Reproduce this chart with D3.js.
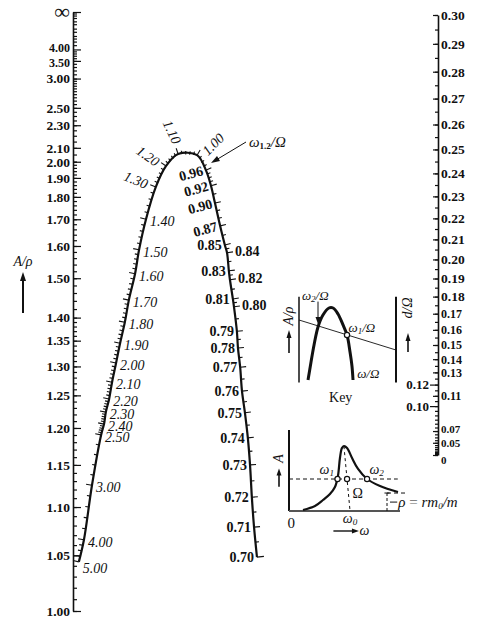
<!DOCTYPE html>
<html><head><meta charset="utf-8">
<script src="https://cdn.jsdelivr.net/npm/d3@7"></script>
<style>
body{margin:0;background:#fff;}
text{font-family:"Liberation Serif","Times New Roman",serif;fill:#111;}
</style></head><body>
<script>
/***********************************************************************************/
// Data

// A/rho scale (left)
var leftMajor = [Infinity,4.00,3.50,3.00,2.50,2.30,2.10,2.00,1.90,1.80,1.70,1.60,1.50,1.40,1.35,1.30,1.25,1.20,1.15,1.10,1.05,1.00];
// d/Omega scale (right)
var rightMajor = [0.30,0.29,0.28,0.27,0.26,0.25,0.24,0.23,0.22,0.21,0.20,0.19,0.18,0.17,0.16,0.15,0.14,0.13,0.11,0.07,0.05,0];
var rightMajorLeft = [0.12,0.10];
// omega_{1,2}/Omega curve: value, position across (0 = A/rho axis, 1 = d/Omega axis), height in A/rho units
var curveValues = [5.00,4.00,3.00,2.50,2.40,2.30,2.20,2.10,2.00,1.90,1.80,1.70,1.60,1.50,1.40,1.30,1.20,1.10,1.00,
                   0.96,0.92,0.90,0.87,0.85,0.84,0.83,0.82,0.81,0.80,0.79,0.78,0.77,0.76,0.75,0.74,0.73,0.72,0.71,0.70];
var curveT = [0.016,0.030,0.052,0.077,0.085,0.090,0.099,0.107,0.118,0.129,0.142,0.153,0.170,0.181,0.200,0.227,0.255,0.288,0.340,
              0.364,0.378,0.389,0.403,0.416,0.422,0.427,0.430,0.438,0.441,0.449,0.452,0.458,0.463,0.471,0.479,0.485,0.490,0.496,0.504];
var curveF = [0.082,0.119,0.210,0.294,0.312,0.332,0.354,0.382,0.414,0.447,0.482,0.519,0.563,0.603,0.654,0.708,0.743,0.763,0.761,
              0.736,0.710,0.681,0.643,0.611,0.598,0.568,0.553,0.521,0.508,0.467,0.439,0.407,0.367,0.331,0.289,0.244,0.190,0.140,0.090];
var curveRightSide = [0.84,0.82,0.80];

// key sketch
var keyArchX = [9.3,12.4,15.5,19.6,24.7,30.9,35.1,40.2,45.4,49.5,52.6,54.6,55.7];
var keyArchY = [0,22.5,43.8,66.3,81.3,90,90,82.5,68.8,56.3,35,17.5,0];

// resonance curve inset
var insetOmega = [0.126,0.234,0.306,0.369,0.414,0.441,0.459,0.477,0.495,0.523,0.568,0.622,0.703,0.82,0.982];
var insetAmp   = [0.012,0.062,0.136,0.210,0.296,0.432,0.654,0.778,0.802,0.778,0.654,0.519,0.395,0.309,0.235];
var insetLevel = 0.395;
var insetMarks = [0.437,0.523,0.703];   // omega1, Omega, omega2
var insetOmega0 = 0.55;
var insetRho = 0.222;

/***********************************************************************************/
// Setup

var W = 483, H = 622;
var svg = d3.select('body').append('svg').attr('width', W).attr('height', H);

var xLeft = 73, xRight = 438;
var yL = d3.scalePow().exponent(-2).domain([1, Infinity]).range([611, 12]);
var yR = d3.scalePow().exponent(2).domain([0, 0.30]).range([455, 15]);
var xNom = d3.scaleLinear().domain([0, 1]).range([xLeft, xRight]);
var yNom = d3.scaleLinear().domain([0, 1]).range([611, 12]);

function fmt2(v){ return v === Infinity ? '\u221e' : (v === 0 ? '0' : d3.format('.2f')(v)); }

function styleAxis(g, size, weight){
  g.attr('font-family', null).attr('font-size', null);
  g.select('.domain').attr('stroke', '#111').attr('stroke-width', 1.6);
  g.selectAll('.tick line').attr('stroke', '#111').attr('stroke-width', 1.2);
  g.selectAll('.tick text').attr('font-size', size).attr('font-weight', weight).attr('fill', '#111');
}

/***********************************************************************************/
// Left axis  A/rho

var leftMinor = [].concat(d3.range(1.00, 1.40, 0.01), d3.range(1.40, 2.00, 0.02), d3.range(2.00, 3.00, 0.05),
                          d3.range(3.00, 4.00, 0.1), [4.25,4.5,4.75,5,5.5,6,7,8,10,13,20]);
svg.append('g').attr('transform', 'translate(' + xLeft + ',0)')
  .call(d3.axisLeft(yL).tickValues(leftMinor).tickSizeInner(-4).tickSizeOuter(0).tickFormat(''))
  .call(function(g){ styleAxis(g, 14, 'bold'); g.select('.domain').remove(); });
svg.append('g').attr('transform', 'translate(' + xLeft + ',0)')
  .call(d3.axisLeft(yL).tickValues(leftMajor).tickSizeInner(-8).tickSizeOuter(0).tickPadding(3).tickFormat(fmt2))
  .call(function(g){
    styleAxis(g, 13.5, 'bold');
    g.selectAll('.tick text').filter(function(d){ return d === Infinity; }).attr('font-size', 22).attr('font-weight', 'normal').attr('dy', '0.3em');
    g.selectAll('.tick text').filter(function(d){ return d === 4 || d === 3.5; }).attr('font-size', 12);
    g.selectAll('.tick text').filter(function(d){ return d === 4; }).attr('dy', '0.15em');
    g.selectAll('.tick text').filter(function(d){ return d === 3.5; }).attr('dy', '0.5em');
  });

// A/rho title with arrow
svg.append('text').attr('x', 23).attr('y', 266).attr('text-anchor', 'middle')
  .attr('font-size', 14).attr('font-style', 'italic').text('A/\u03c1');
svg.append('line').attr('x1', 23).attr('y1', 313).attr('x2', 23).attr('y2', 278).attr('stroke', '#111').attr('stroke-width', 2);
svg.append('path').attr('d', 'M23,272 L20,281 L26,281 Z').attr('fill', '#111');

/***********************************************************************************/
// Right axis  d/Omega

svg.append('g').attr('transform', 'translate(' + xRight + ',0)')
  .call(d3.axisRight(yR).tickValues(d3.range(0, 0.3001, 0.005)).tickSizeInner(-3).tickSizeOuter(0).tickFormat(''))
  .call(function(g){ styleAxis(g, 14, 'bold'); });
svg.append('g').attr('transform', 'translate(' + xRight + ',0)')
  .call(d3.axisRight(yR).tickValues(rightMajor).tickSizeInner(-5).tickSizeOuter(0).tickPadding(3).tickFormat(fmt2))
  .call(function(g){
    styleAxis(g, 13.5, 'bold'); g.select('.domain').remove();
    g.selectAll('.tick text').filter(function(d){ return d <= 0.175 && d > 0.1; }).attr('font-size', 12);
    g.selectAll('.tick text').filter(function(d){ return d < 0.1; }).attr('font-size', 11);
    g.selectAll('.tick text').filter(function(d){ return d === 0.07; }).attr('dy', '0.1em');
    g.selectAll('.tick text').filter(function(d){ return d === 0; }).attr('dy', '0.75em');
  });
svg.append('g').attr('transform', 'translate(' + xRight + ',0)')
  .call(d3.axisLeft(yR).tickValues(rightMajorLeft).tickSizeInner(8).tickSizeOuter(0).tickPadding(1).tickFormat(fmt2))
  .call(function(g){ styleAxis(g, 13, 'bold'); g.select('.domain').remove(); });

/***********************************************************************************/
// Curve  omega_{1,2}/Omega

var nodes = curveValues.map(function(v, i){ return { v: v, x: xNom(curveT[i]), y: yNom(curveF[i]) }; });
var line = d3.line().x(function(d){ return d.x; }).y(function(d){ return d.y; }).curve(d3.curveCatmullRom.alpha(0.5));
svg.append('path').attr('d', line(nodes)).attr('fill', 'none').attr('stroke', '#111').attr('stroke-width', 2.2);

function normalAt(i){
  var a = nodes[Math.max(0, i - 1)], b = nodes[Math.min(nodes.length - 1, i + 1)];
  var tx = b.x - a.x, ty = b.y - a.y, L = Math.sqrt(tx * tx + ty * ty);
  return { x: ty / L, y: -tx / L };
}
function curveTick(x, y, n, len){
  svg.append('line').attr('x1', x).attr('y1', y).attr('x2', x + n.x * len).attr('y2', y + n.y * len)
    .attr('stroke', '#111').attr('stroke-width', 1.1);
}
// minor ticks between labelled values
for (var i = 0; i < nodes.length - 1; i++){
  var a = nodes[i], b = nodes[i + 1];
  var step = a.v > 4 ? 0.25 : a.v > 3 ? 0.2 : a.v > 2.5 ? 0.1 : a.v > 1.0 ? 0.02 : (a.v - b.v > 0.015 ? 0.01 : 0.005);
  var n0 = normalAt(i), n1 = normalAt(i + 1);
  for (var v = a.v - step; v > b.v + 1e-6; v -= step){
    var f = (a.v - v) / (a.v - b.v);
    var n = { x: n0.x + (n1.x - n0.x) * f, y: n0.y + (n1.y - n0.y) * f };
    var L = Math.sqrt(n.x * n.x + n.y * n.y);
    curveTick(a.x + (b.x - a.x) * f, a.y + (b.y - a.y) * f, { x: n.x / L, y: n.y / L }, 3.5);
  }
}
nodes.forEach(function(d, i){ curveTick(d.x, d.y, normalAt(i), d.v === 0.70 ? 7 : 6); });

function labelSpec(v){
  if (v >= 1.35) return { dx: 4, dy: v === 5 ? 6 : 2, rot: 0, anchor: 'start', it: true };
  if (v >= 1.25) return { dx: -20, dy: -7, rot: 22, anchor: 'middle', it: true };
  if (v >= 1.15) return { dx: -18, dy: -10, rot: 35, anchor: 'middle', it: true };
  if (v >= 1.05) return { dx: -6, dy: -22, rot: 65, anchor: 'middle', it: true };
  if (v >= 0.99) return { dx: 16, dy: -11, rot: -45, anchor: 'middle', it: true };
  if (curveRightSide.indexOf(v) >= 0) return { dx: 8, dy: -2, rot: 0, anchor: 'start', it: false };
  if (v >= 0.865) return { dx: -3, dy: 0, rot: -15, anchor: 'end', it: false };
  return { dx: -3, dy: 0, rot: 0, anchor: 'end', it: false };
}
nodes.forEach(function(d){
  var s = labelSpec(d.v);
  svg.append('text')
    .attr('transform', 'translate(' + (d.x + s.dx) + ',' + (d.y + s.dy) + ') rotate(' + s.rot + ')')
    .attr('dy', '0.35em').attr('text-anchor', s.anchor).attr('font-size', 14)
    .attr('font-style', s.it ? 'italic' : 'normal').attr('font-weight', s.it ? 'normal' : 'bold')
    .text(d3.format('.2f')(d.v));
});

// omega_{1.2}/Omega pointer
var lab = svg.append('text').attr('x', 249).attr('y', 147).attr('font-size', 15).attr('font-style', 'italic');
lab.append('tspan').text('\u03c9');
lab.append('tspan').attr('font-size', 9).attr('font-style', 'normal').attr('font-weight', 'bold').attr('dy', 2).text('1.2');
lab.append('tspan').attr('dy', -2).text('/\u03a9');
svg.append('line').attr('x1', 246).attr('y1', 142).attr('x2', 216).attr('y2', 160).attr('stroke', '#111').attr('stroke-width', 1);
svg.append('path').attr('d', 'M211,163 L217,156 L220,161 Z').attr('fill', '#111');

/***********************************************************************************/
// Key

var kx = d3.scaleLinear().domain([0, 100]).range([299, 396]);
var ky = d3.scaleLinear().domain([0, 100]).range([380, 300]);
var kg = svg.append('g');
kg.append('line').attr('x1', kx(0)).attr('x2', kx(0)).attr('y1', ky(-3)).attr('y2', ky(104)).attr('stroke', '#111').attr('stroke-width', 1.5);
kg.append('line').attr('x1', kx(100)).attr('x2', kx(100)).attr('y1', ky(-3)).attr('y2', ky(104)).attr('stroke', '#111').attr('stroke-width', 2);
kg.append('path').datum(keyArchX.map(function(x, i){ return [kx(x), ky(keyArchY[i])]; }))
  .attr('d', d3.line().curve(d3.curveCatmullRom)).attr('fill', 'none').attr('stroke', '#111').attr('stroke-width', 3);
kg.append('line').attr('x1', kx(0)).attr('y1', ky(75)).attr('x2', kx(100)).attr('y2', ky(37.5)).attr('stroke', '#111').attr('stroke-width', 0.9);
kg.append('circle').attr('cx', kx(49.5)).attr('cy', ky(56.3)).attr('r', 2.6).attr('fill', '#fff').attr('stroke', '#111').attr('stroke-width', 1.2);
kg.append('line').attr('x1', kx(19.6)).attr('x2', kx(19.6)).attr('y1', ky(98)).attr('y2', ky(76)).attr('stroke', '#111').attr('stroke-width', 1);
kg.append('path').attr('d', 'M' + kx(19.6) + ',' + ky(70) + ' l-2.5,-7 l5,0 Z').attr('fill', '#111');
var t2 = kg.append('text').attr('x', kx(3)).attr('y', ky(100)).attr('font-size', 13).attr('font-style', 'italic');
t2.append('tspan').text('\u03c9'); t2.append('tspan').attr('font-size', 9).attr('dy', 2).text('2'); t2.append('tspan').attr('dy', -2).text('/\u03a9');
var t1 = kg.append('text').attr('x', kx(51)).attr('y', ky(60)).attr('font-size', 13).attr('font-style', 'italic');
t1.append('tspan').text('\u03c9'); t1.append('tspan').attr('font-size', 9).attr('dy', 2).text('1'); t1.append('tspan').attr('dy', -2).text('/\u03a9');
kg.append('text').attr('x', kx(60)).attr('y', ky(3)).attr('font-size', 13).attr('font-style', 'italic').text('\u03c9/\u03a9');
kg.append('text').attr('x', kx(43)).attr('y', ky(-27)).attr('font-size', 14).attr('text-anchor', 'middle').text('Key');
// rotated titles with arrows
kg.append('text').attr('transform', 'translate(' + 293 + ',' + 316 + ') rotate(-90)').attr('text-anchor', 'middle')
  .attr('font-size', 14).attr('font-style', 'italic').text('A/\u03c1');
kg.append('line').attr('x1', 289).attr('x2', 289).attr('y1', 353).attr('y2', 336).attr('stroke', '#111').attr('stroke-width', 1.6);
kg.append('path').attr('d', 'M289,330 L286.5,338 L291.5,338 Z').attr('fill', '#111');
kg.append('text').attr('transform', 'translate(' + 412 + ',' + 308 + ') rotate(-90)').attr('text-anchor', 'middle')
  .attr('font-size', 14).attr('font-style', 'italic').text('d/\u03a9');
kg.append('line').attr('x1', 408).attr('x2', 408).attr('y1', 352).attr('y2', 339).attr('stroke', '#111').attr('stroke-width', 1.6);
kg.append('path').attr('d', 'M408,333 L405.5,341 L410.5,341 Z').attr('fill', '#111');

/***********************************************************************************/
// Inset: resonance curve

var iw = d3.scaleLinear().domain([0, 1]).range([289, 400]);
var ia = d3.scaleLinear().domain([0, 1]).range([511, 430]);
var ig = svg.append('g');
ig.append('line').attr('x1', iw(0)).attr('x2', iw(0)).attr('y1', ia(0)).attr('y2', ia(1)).attr('stroke', '#111').attr('stroke-width', 2);
ig.append('line').attr('x1', iw(0)).attr('x2', iw(1)).attr('y1', ia(0)).attr('y2', ia(0)).attr('stroke', '#555').attr('stroke-width', 2.2);
ig.append('line').attr('x1', iw(0)).attr('x2', iw(0.98)).attr('y1', ia(insetLevel)).attr('y2', ia(insetLevel))
  .attr('stroke', '#111').attr('stroke-width', 1).attr('stroke-dasharray', '4,3');
ig.append('line').attr('x1', iw(0.495)).attr('x2', iw(insetOmega0)).attr('y1', ia(0.8)).attr('y2', ia(0))
  .attr('stroke', '#111').attr('stroke-width', 1).attr('stroke-dasharray', '3,3');
ig.append('path').datum(insetOmega.map(function(w, i){ return [iw(w), ia(insetAmp[i])]; }))
  .attr('d', d3.line().curve(d3.curveCatmullRom)).attr('fill', 'none').attr('stroke', '#111').attr('stroke-width', 2.2);
insetMarks.forEach(function(w){
  ig.append('circle').attr('cx', iw(w)).attr('cy', ia(insetLevel)).attr('r', 2.6).attr('fill', '#fff').attr('stroke', '#111').attr('stroke-width', 1.2);
});
// rho marker
ig.append('line').attr('x1', iw(0.883)).attr('x2', iw(0.883)).attr('y1', ia(0)).attr('y2', ia(insetRho))
  .attr('stroke', '#111').attr('stroke-width', 1).attr('stroke-dasharray', '3,2');
ig.append('line').attr('x1', iw(0.86)).attr('x2', iw(0.906)).attr('y1', ia(insetRho)).attr('y2', ia(insetRho)).attr('stroke', '#111');
ig.append('line').attr('x1', iw(0.883)).attr('x2', iw(1.065)).attr('y1', ia(insetRho)).attr('y2', ia(insetRho))
  .attr('stroke', '#111').attr('stroke-width', 1).attr('stroke-dasharray', '4,3');
ig.append('line').attr('x1', iw(0.91)).attr('x2', iw(0.975)).attr('y1', ia(0.11)).attr('y2', ia(0.11)).attr('stroke', '#111').attr('stroke-width', 1);
var rt = ig.append('text').attr('x', iw(0.985)).attr('y', ia(0.11) + 5).attr('font-size', 15).attr('font-style', 'italic');
rt.append('tspan').text('\u03c1');
rt.append('tspan').attr('font-style', 'normal').attr('fill', '#666').text(' = ');
rt.append('tspan').text('rm');
rt.append('tspan').attr('font-size', 9).attr('dy', 2).text('0');
rt.append('tspan').attr('dy', -2).text('/m');
// labels
function sub(g, x, y, main, s, size){
  var t = g.append('text').attr('x', x).attr('y', y).attr('font-size', size).attr('font-style', 'italic').attr('text-anchor', 'middle');
  t.append('tspan').text(main); t.append('tspan').attr('font-size', size * 0.65).attr('dy', 2).text(s);
}
sub(ig, iw(0.34), ia(insetLevel) - 5, '\u03c9', '1', 14);
sub(ig, iw(0.79), ia(insetLevel) - 5, '\u03c9', '2', 14);
ig.append('text').attr('x', iw(0.62)).attr('y', ia(insetLevel) + 19).attr('font-size', 14).attr('text-anchor', 'middle').text('\u03a9');
sub(ig, iw(insetOmega0), ia(0) + 12, '\u03c9', '0', 14);
ig.append('text').attr('x', iw(0.02)).attr('y', ia(0) + 17).attr('font-size', 15).attr('text-anchor', 'middle').text('0');
ig.append('line').attr('x1', iw(0.4)).attr('x2', iw(0.58)).attr('y1', ia(0) + 20).attr('y2', ia(0) + 20).attr('stroke', '#111').attr('stroke-width', 1.4);
ig.append('path').attr('d', 'M' + iw(0.63) + ',' + (ia(0) + 20) + ' l-7,-2.5 l0,5 Z').attr('fill', '#111');
ig.append('text').attr('x', iw(0.635)).attr('y', ia(0) + 24).attr('font-size', 14).attr('font-style', 'italic').text('\u03c9');
ig.append('text').attr('transform', 'translate(' + 283 + ',' + ia(0.65) + ') rotate(-90)').attr('text-anchor', 'middle')
  .attr('font-size', 14).attr('font-style', 'italic').text('A');
ig.append('line').attr('x1', 279).attr('x2', 279).attr('y1', ia(0.3)).attr('y2', ia(0.45)).attr('stroke', '#111').attr('stroke-width', 1.6);
ig.append('path').attr('d', 'M279,' + (ia(0.45) - 6) + ' l-2.5,7 l5,0 Z').attr('fill', '#111');
</script>
</body></html>
